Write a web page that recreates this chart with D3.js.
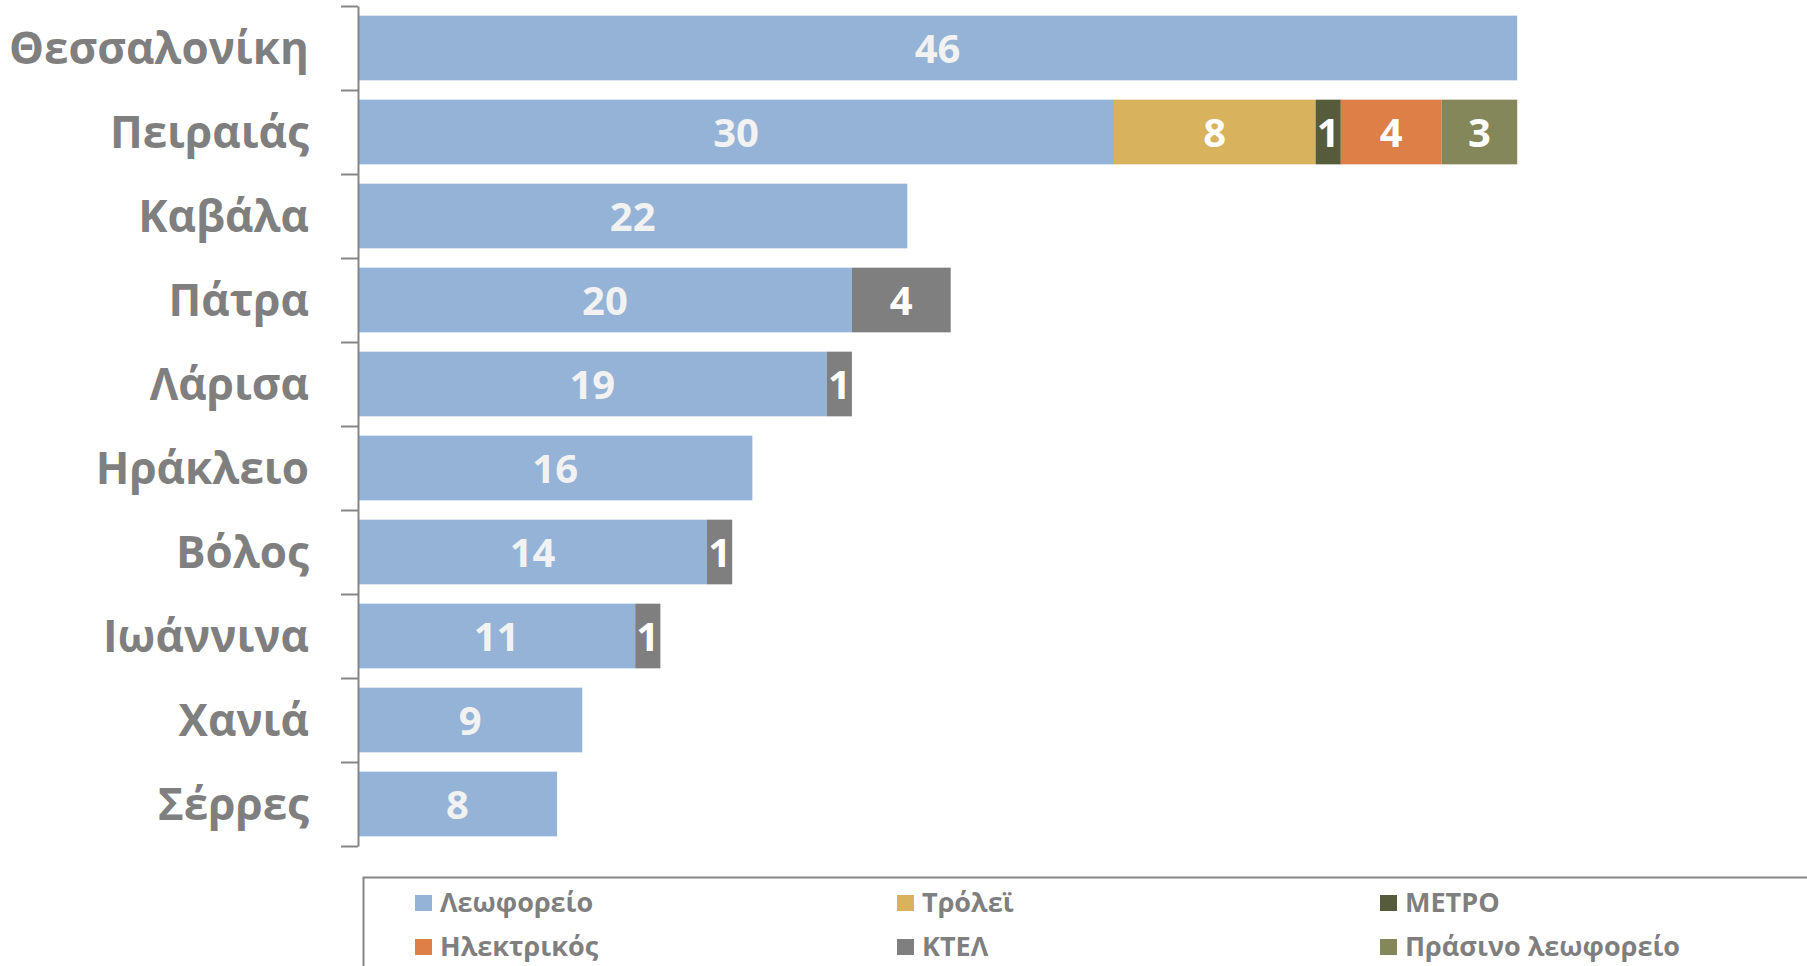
<!DOCTYPE html>
<html>
<head>
<meta charset="utf-8">
<script src="https://cdn.jsdelivr.net/npm/d3@7"></script>
<style>
  body { margin: 0; background: #fff; overflow: hidden; }
  svg { display: block; font-family: "Open Sans", "DejaVu Sans", sans-serif; }
</style>
</head>
<body>
<div id="chart"></div>
<script>
// Categories (top to bottom)
var cities = ["Θεσσαλονίκη", "Πειραιάς", "Καβάλα", "Πάτρα", "Λάρισα", "Ηράκλειο", "Βόλος", "Ιωάννινα", "Χανιά", "Σέρρες"];

// Series names and values, in stacking order (bar lengths, labels are rounded)
var seriesNames = ["Λεωφορείο", "Τρόλεϊ", "ΜΕΤΡΟ", "Ηλεκτρικός", "ΚΤΕΛ", "Πράσινο λεωφορείο"];
var bus       = [46, 30, 21.8, 19.6, 18.6, 15.65, 13.85, 11, 8.9, 7.9];
var trolley   = [0, 8, 0, 0, 0, 0, 0, 0, 0, 0];
var metro     = [0, 1, 0, 0, 0, 0, 0, 0, 0, 0];
var electric  = [0, 4, 0, 0, 0, 0, 0, 0, 0, 0];
var ktel      = [0, 0, 0, 3.92, 1, 0, 1, 1, 0, 0];
var greenBus  = [0, 3, 0, 0, 0, 0, 0, 0, 0, 0];

var seriesColors = ["#95b3d7", "#d8b25c", "#565b3c", "#dd7f47", "#7f7f7f", "#848759"];
var labelColors  = ["#f2f2f2", "#fff", "#fff", "#fff", "#fff", "#fff"];

var svgWidth = 1807, svgHeight = 966;

var svg = d3.select("#chart").append("svg")
    .attr("width", svgWidth)
    .attr("height", svgHeight);

// build rows for the stack
var allSeries = [bus, trolley, metro, electric, ktel, greenBus];
var rows = cities.map(function(c, i) {
    var r = {city: c};
    seriesNames.forEach(function(s, j) { r[s] = allSeries[j][i]; });
    return r;
});

var stacked = d3.stack().keys(seriesNames)(rows);

// scales
var x = d3.scaleLinear().domain([0, 50]).range([358, 358 + 50 * 25.2]);
var y = d3.scaleBand().domain(cities).range([6, 846]).paddingInner(0.23).paddingOuter(0.115);
var yEdges = d3.scaleLinear().domain([0, cities.length]).range([6, 846]);

// bars
var layers = svg.selectAll("g.layer")
    .data(stacked)
    .enter()
    .append("g")
        .attr("class", "layer")
        .attr("fill", function(d, i) { return seriesColors[i]; });

layers.selectAll("rect")
    .data(function(d) { return d; })
    .enter()
    .append("rect")
        .attr("x", function(d) { return x(d[0]); })
        .attr("y", function(d) { return y(d.data.city); })
        .attr("width", function(d) { return x(d[1]) - x(d[0]); })
        .attr("height", y.bandwidth());

// value labels
layers.each(function(layer, i) {
    d3.select(this).selectAll("text")
        .data(layer.filter(function(d) { return d[1] - d[0] > 0; }))
        .enter()
        .append("text")
            .attr("x", function(d) { return (x(d[0]) + x(d[1])) / 2; })
            .attr("y", function(d) { return y(d.data.city) + y.bandwidth() / 2; })
            .attr("dy", "0.38em")
            .attr("text-anchor", "middle")
            .attr("font-size", "40px")
            .attr("font-weight", "bold")
            .attr("fill", labelColors[i])
            .text(function(d) { return Math.round(d[1] - d[0]); });
});

// axis line with ticks at category edges
var edgeAxis = d3.axisLeft(yEdges)
    .tickValues(d3.range(cities.length + 1))
    .tickSize(17)
    .tickSizeOuter(0)
    .tickFormat("");

var gAxis = svg.append("g")
    .attr("transform", "translate(358,0)")
    .call(edgeAxis);
gAxis.selectAll("path, line").attr("stroke", "#868686").attr("stroke-width", 2);

// category labels
var labelAxis = d3.axisLeft(y).tickSize(0).tickPadding(0);
var gLabels = svg.append("g")
    .attr("transform", "translate(309,0)")
    .call(labelAxis);
gLabels.select(".domain").remove();
gLabels.selectAll("text")
    .attr("font-family", "'Open Sans', sans-serif")
    .attr("font-size", "44px")
    .attr("font-weight", "bold")
    .attr("fill", "#7f7f7f")
    .attr("dy", "0.36em");

// legend
var legend = svg.append("g");
legend.append("rect")
    .attr("x", 363.5)
    .attr("y", 877.5)
    .attr("width", 1500)
    .attr("height", 200)
    .attr("fill", "none")
    .attr("stroke", "#868686")
    .attr("stroke-width", 2);

var colX = [415, 897, 1380];
var rowY = [903, 947];

var items = legend.selectAll("g.item")
    .data(seriesNames)
    .enter()
    .append("g")
        .attr("class", "item")
        .attr("transform", function(d, i) {
            return "translate(" + colX[i % 3] + "," + rowY[Math.floor(i / 3)] + ")";
        });

items.append("rect")
    .attr("x", 0)
    .attr("y", -8)
    .attr("width", 17)
    .attr("height", 16)
    .attr("fill", function(d, i) { return seriesColors[i]; });

items.append("text")
    .attr("x", 25)
    .attr("dy", "0.34em")
    .attr("font-size", "27px")
    .attr("font-weight", "bold")
    .attr("fill", "#7f7f7f")
    .text(function(d) { return d; });
</script>
</body>
</html>
